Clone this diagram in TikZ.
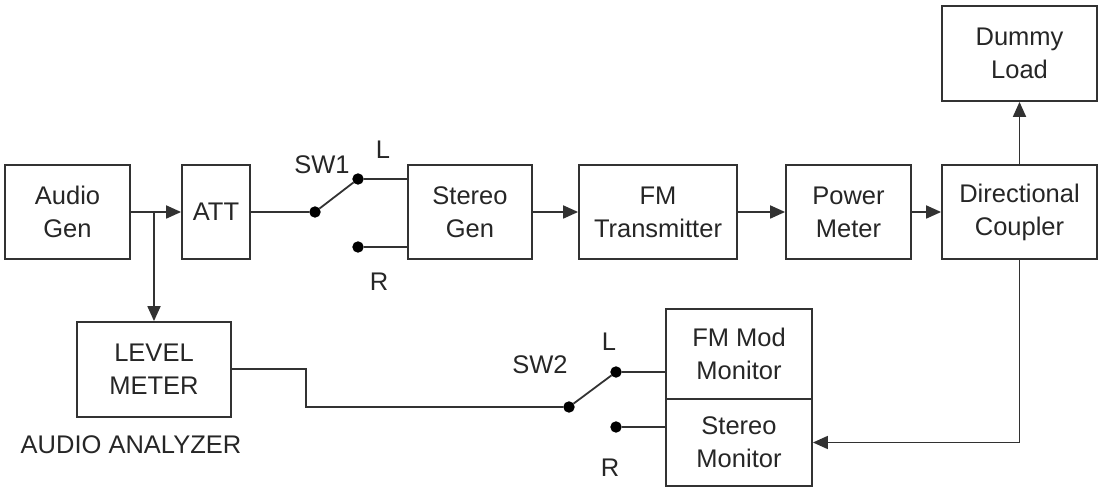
\documentclass[tikz,border=0pt]{standalone}
\usepackage{fontspec}
\setmainfont{Liberation Sans}
\usetikzlibrary{arrows.meta,positioning}
\definecolor{ink}{RGB}{50,50,50}
\tikzset{every picture/.style={line width=1.8pt}}
\tikzstyle{blk}=[draw=ink,rectangle,align=center,inner sep=0pt,text=black!85]
\tikzstyle{dot}=[circle,fill=black,draw=black,inner sep=0pt,minimum size=9.5pt]
\tikzstyle{lbl}=[text=black!85]

\begin{document}
\begin{tikzpicture}[x=1pt,y=-1pt,font=\fontsize{25.5}{33}\selectfont,>={Triangle[length=15pt,width=13pt]}]
\useasboundingbox (0,0) rectangle (1106,494);
% top chain
\node[blk,minimum width=125pt,minimum height=94pt] (gen) at (67.5,212) {Audio\\Gen};
\node[blk,minimum width=68pt,minimum height=94pt] (att) at (216,212) {ATT};
\node[blk,minimum width=124pt,minimum height=94pt] (stereo) at (470,212) {Stereo\\Gen};
\node[blk,minimum width=158pt,minimum height=94pt] (fmtx) at (658,212) {FM\\Transmitter};
\node[blk,minimum width=125pt,minimum height=94pt] (pwr) at (848.5,212) {Power\\Meter};
\node[blk,minimum width=155pt,minimum height=94pt] (dc) at (1019.5,212) {Directional\\Coupler};
\node[blk,minimum width=155pt,minimum height=95pt] (dummy) at (1019.5,53.5) {Dummy\\Load};
% bottom
\node[blk,minimum width=154pt,minimum height=95pt] (level) at (154,369.5) {LEVEL\\METER};
\node[lbl] (ana) at (131,445) {AUDIO ANALYZER};
\node[blk,minimum width=146pt,minimum height=90pt] (fmmod) at (739,354) {FM Mod\\Monitor};
\node[blk,minimum width=146pt,minimum height=87pt] (stmon) at (739,442.5) {Stereo\\Monitor};
% switches
\node[dot] (s1c) at (315,212) {};
\node[dot] (s1l) at (358,179) {};
\node[dot] (s1r) at (358,247) {};
\node[lbl] (sw1) at (322,165) {SW1};
\node[lbl] (s1lt) at (383,150) {L};
\node[lbl] (s1rt) at (379,282) {R};
\node[dot] (s2c) at (569,407) {};
\node[dot] (s2l) at (616,372) {};
\node[dot] (s2r) at (616,427) {};
\node[lbl] (sw2) at (540,365) {SW2};
\node[lbl] (s2lt) at (609,342) {L};
\node[lbl] (s2rt) at (610,468) {R};
\coordinate (br) at (154,212);
\coordinate (jog) at (306,369);
\path[->,ink]
(gen) edge (att)
(br) edge (level)
(stereo) edge (fmtx)
(fmtx) edge (pwr)
(pwr) edge (dc)
(dc) edge (dummy);
\draw[ink] (att) -- (s1c) -- (s1l) -- (stereo.west |- s1l);
\draw[ink] (s1r) -- (stereo.west |- s1r);
\draw[ink] (level.east |- jog) -- (jog) -- (jog |- s2c) -- (s2c) -- (s2l) -- (fmmod.west |- s2l);
\draw[ink] (s2r) -- (stmon.west |- s2r);
\draw[ink,->] (dc.south) -- (dc.south |- stmon.east) -- (stmon.east);
\end{tikzpicture}
\end{document}
